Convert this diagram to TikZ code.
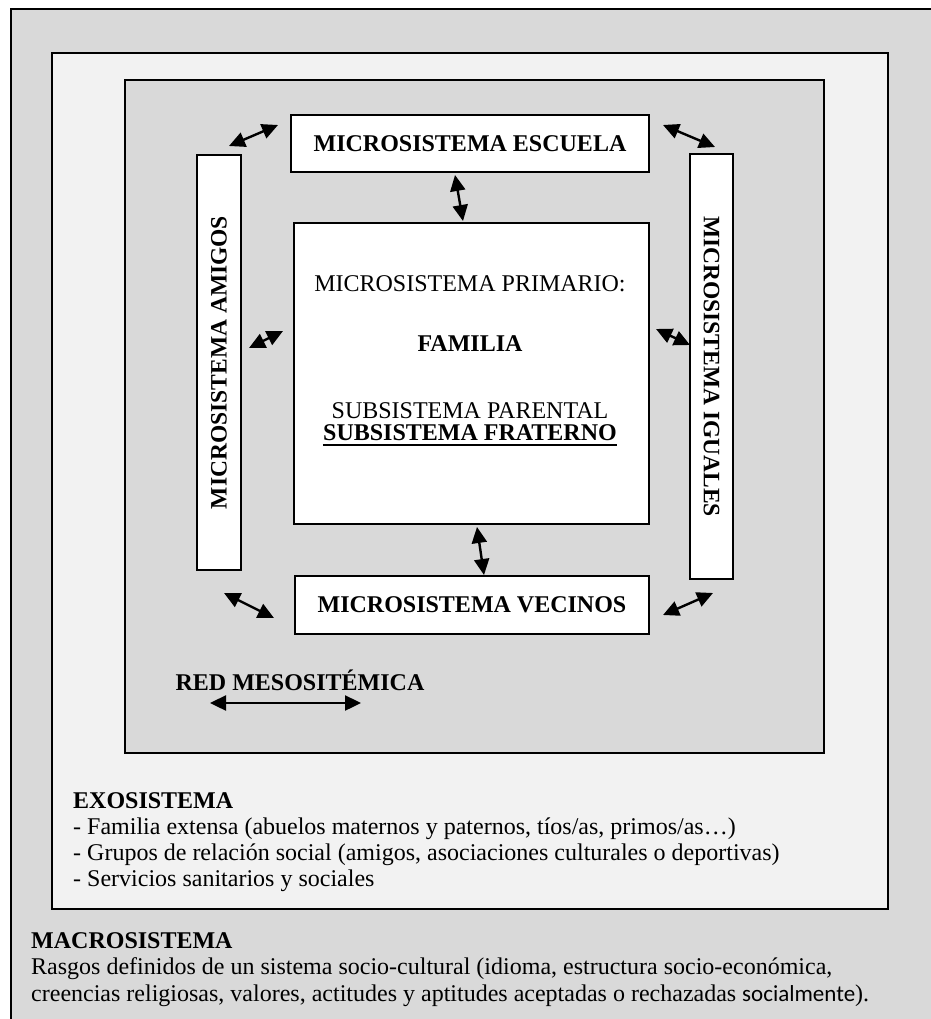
\documentclass[tikz,border=0pt]{standalone}
\usepackage{fontspec}
\setmainfont{Liberation Serif}
\newfontfamily\calibrifont{Carlito}
\usetikzlibrary{arrows.meta}
\definecolor{grayD}{HTML}{D9D9D9}
\definecolor{grayF}{HTML}{F2F2F2}
\begin{document}
\begin{tikzpicture}[x=1pt,y=-1pt,
  frame/.style={draw=black, line width=2pt},
  box/.style={draw=black, line width=2pt, fill=white, inner sep=0pt, align=center},
  rel/.style={{Triangle[length=16pt,width=15pt]}-{Triangle[length=16pt,width=15pt]}, line width=2.4pt},
  hbold/.style={font=\fontsize{24}{29}\selectfont\bfseries},
  vbold/.style={font=\fontsize{23.5}{28}\selectfont\bfseries},
  ptext/.style={font=\fontsize{24}{28}\selectfont, inner sep=0pt, anchor=base},
  ltext/.style={font=\fontsize{24}{28}\selectfont, inner sep=0pt, anchor=base west},
]
\useasboundingbox (0,0) rectangle (930,1019);
\fill[white] (0,0) rectangle (930,1019);
% macro / exo / meso frames
\draw[frame, fill=grayD] (11,9) rectangle (950,1040);
\draw[frame, fill=grayF] (52,53) rectangle (888,909);
\draw[frame, fill=grayD] (125,80) rectangle (824,753);
% microsystems
\node[box, hbold, minimum width=358pt, minimum height=57pt] (escuela) at (470,143.5) {MICROSISTEMA ESCUELA};
\node[box, minimum width=355pt, minimum height=301pt] (primario) at (471.5,373.5) {};
\node[box, vbold, rotate=90, minimum width=415pt, minimum height=44pt] (amigos) at (219,362.5) {MICROSISTEMA AMIGOS};
\node[box, vbold, rotate=-90, minimum width=425pt, minimum height=43pt] (iguales) at (711.5,366.5) {MICROSISTEMA IGUALES};
\node[box, hbold, minimum width=354pt, minimum height=58pt] (vecinos) at (472,605) {MICROSISTEMA VECINOS};
% primario text
\node[ptext] (p1) at (470,291) {MICROSISTEMA PRIMARIO:};
\node[ptext, font=\fontsize{24}{28}\selectfont\bfseries] (p2) at (470,351) {FAMILIA};
\node[ptext] (p3) at (470,418) {SUBSISTEMA PARENTAL};
\node[ptext, font=\fontsize{24}{28}\selectfont\bfseries] (p4) at (470,440) {SUBSISTEMA FRATERNO};
\draw[line width=1.8pt] ([yshift=-5pt]p4.base west) -- ([yshift=-5pt]p4.base east);
% arrows
\coordinate (a1s) at (229,146); \coordinate (a1e) at (278,125);
\coordinate (a2s) at (663,125); \coordinate (a2e) at (715,147);
\coordinate (a3s) at (455,175); \coordinate (a3e) at (463,221);
\coordinate (a4s) at (249,348); \coordinate (a4e) at (283,331);
\coordinate (a5s) at (656,329); \coordinate (a5e) at (690,345);
\coordinate (a6s) at (477,527); \coordinate (a6e) at (484,575);
\coordinate (a7s) at (224,593); \coordinate (a7e) at (274,618);
\coordinate (a8s) at (663,615); \coordinate (a8e) at (713,593);
\draw[rel] (a1s) -- (a1e);
\draw[rel] (a2s) -- (a2e);
\draw[rel] (a3s) -- (a3e);
\draw[rel] (a4s) -- (a4e);
\draw[rel] (a5s) -- (a5e);
\draw[rel] (a6s) -- (a6e);
\draw[rel] (a7s) -- (a7e);
\draw[rel] (a8s) -- (a8e);
% red mesosistemica
\node[ptext, font=\fontsize{24}{28}\selectfont\bfseries] (red) at (300,690) {RED MESOSITÉMICA};
\coordinate (r1) at (210,703); \coordinate (r2) at (361,703);
\draw[rel] (r1) -- (r2);
% exosistema
\node[ltext, font=\fontsize{24}{28}\selectfont\bfseries] (exo) at (73,808) {EXOSISTEMA};
\node[ltext] (exo1) at (73,834) {- Familia extensa (abuelos maternos y paternos, tíos/as, primos/as…)};
\node[ltext] (exo2) at (73,860) {- Grupos de relación social (amigos, asociaciones culturales o deportivas)};
\node[ltext] (exo3) at (73,886) {- Servicios sanitarios y sociales};
% macrosistema
\node[ltext, font=\fontsize{24}{28}\selectfont\bfseries] (macro) at (31,948) {MACROSISTEMA};
\node[ltext] (mac1) at (31,974) {Rasgos definidos de un sistema socio-cultural (idioma, estructura socio-económica,};
\node[ltext] (mac2) at (31,1001) {creencias religiosas, valores, actitudes y aptitudes aceptadas o rechazadas {\calibrifont\fontsize{23}{28}\selectfont socialmente}).};
\end{tikzpicture}
\end{document}
